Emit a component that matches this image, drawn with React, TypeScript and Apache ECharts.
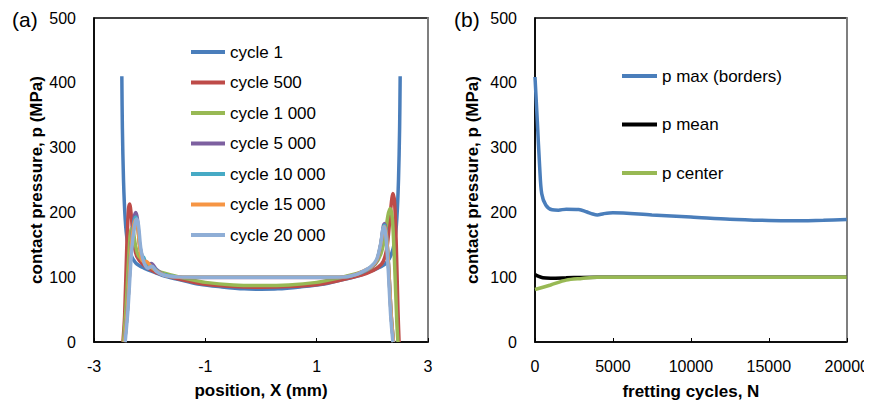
import React, { useEffect, useRef } from "react";
import * as echarts from "echarts";

// ---------- panel (a): contact pressure along position X ----------
const cycle1: [number, number][] = [
  [-2.5, 410], [-2.49, 330], [-2.47, 250], [-2.44, 190], [-2.4, 155], [-2.34, 135], [-2.25, 122],
  [-2.1, 114], [-1.9, 107], [-1.7, 101], [-1.4, 95], [-1.1, 89], [-0.7, 85], [-0.3, 82], [0, 81.5],
  [0.3, 82], [0.7, 85], [1.1, 89], [1.4, 95], [1.7, 101], [1.9, 107], [2.1, 114], [2.25, 122],
  [2.34, 135], [2.4, 155], [2.44, 190], [2.47, 250], [2.49, 330], [2.5, 410],
];
const cycle500: [number, number][] = [
  [-2.48, 0], [-2.45, 40], [-2.41, 150], [-2.38, 205], [-2.36, 213], [-2.33, 195], [-2.29, 155],
  [-2.23, 132], [-2.1, 118], [-1.9, 108], [-1.6, 100], [-1.3, 94], [-1, 89], [-0.5, 85.5], [0, 84.5],
  [0.5, 85.5], [1, 88.5], [1.3, 93], [1.6, 99], [1.9, 106], [2.1, 115], [2.2, 125], [2.27, 150],
  [2.33, 205], [2.37, 229], [2.4, 215], [2.43, 150], [2.46, 50], [2.48, 0],
];
const cycle1000: [number, number][] = [
  [-2.47, 0], [-2.42, 60], [-2.37, 140], [-2.33, 175], [-2.3, 173], [-2.26, 152], [-2.2, 133],
  [-2.05, 121], [-1.9, 111], [-1.6, 103], [-1.3, 97], [-1, 92], [-0.5, 88], [0, 87], [0.5, 88],
  [1, 92], [1.3, 97], [1.6, 103], [1.9, 111], [2.05, 120], [2.15, 135], [2.22, 160], [2.28, 195],
  [2.32, 206], [2.36, 190], [2.4, 120], [2.44, 30], [2.46, 0],
];
const cycle5000: [number, number][] = [
  [-2.45, 0], [-2.4, 50], [-2.33, 150], [-2.28, 192], [-2.25, 200], [-2.22, 190], [-2.18, 150],
  [-2.12, 128], [-2.05, 118], [-1.97, 121], [-1.88, 112], [-1.75, 104], [-1.5, 100], [-1, 99.5],
  [0, 99.5], [1, 99.5], [1.5, 100], [1.7, 104], [1.85, 109], [1.98, 115], [2.08, 125], [2.15, 150],
  [2.2, 180], [2.22, 183], [2.25, 170], [2.29, 120], [2.34, 40], [2.38, 0],
];
const cycle10000: [number, number][] = [
  [-2.45, 0], [-2.4, 50], [-2.33, 150], [-2.28, 186], [-2.25, 193], [-2.22, 185], [-2.18, 150],
  [-2.14, 132], [-2.11, 131], [-2.06, 121], [-1.95, 116], [-1.8, 106], [-1.5, 100.5], [-1, 100],
  [0, 100], [1, 100], [1.5, 100.5], [1.7, 104], [1.85, 109], [1.98, 116], [2.08, 126], [2.15, 150],
  [2.2, 177], [2.22, 180], [2.25, 168], [2.29, 120], [2.34, 40], [2.38, 0],
];
const cycle15000: [number, number][] = [
  [-2.45, 0], [-2.4, 50], [-2.33, 148], [-2.28, 182], [-2.25, 188], [-2.22, 180], [-2.18, 148],
  [-2.13, 125], [-2.05, 124], [-1.97, 116], [-1.85, 108], [-1.7, 102], [-1.5, 100.5], [-1, 100],
  [0, 100], [1, 100], [1.5, 100.5], [1.7, 104], [1.85, 110], [1.98, 116], [2.08, 126], [2.15, 150],
  [2.2, 175], [2.22, 178], [2.25, 166], [2.29, 120], [2.34, 40], [2.38, 0],
];
const cycle20000: [number, number][] = [
  [-2.44, 0], [-2.39, 50], [-2.32, 145], [-2.26, 184], [-2.23, 190], [-2.2, 180], [-2.16, 145],
  [-2.1, 122], [-2.03, 114], [-1.96, 117], [-1.88, 109], [-1.75, 103], [-1.5, 100.5], [-1, 100],
  [0, 100], [1, 100], [1.5, 100.5], [1.7, 104], [1.85, 110], [1.98, 117], [2.08, 128], [2.15, 152],
  [2.19, 175], [2.21, 178], [2.24, 166], [2.28, 120], [2.33, 40], [2.37, 0],
];
const leftNames = ["cycle 1", "cycle 500", "cycle 1 000", "cycle 5 000", "cycle 10 000", "cycle 15 000", "cycle 20 000"];
const leftData = [cycle1, cycle500, cycle1000, cycle5000, cycle10000, cycle15000, cycle20000];
const leftColors = ["#4A7EBB", "#BE4B48", "#98B954", "#7D60A0", "#46AAC5", "#F69544", "#8FAED6"];

// ---------- panel (b): pressure vs fretting cycles ----------
const pMax: [number, number][] = [
  [0, 409], [150, 340], [300, 270], [430, 229], [700, 211], [1100, 204], [1500, 203.5], [2000, 205],
  [2800, 204.5], [3300, 201], [3700, 197.5], [4000, 196], [4400, 198], [5000, 199.5], [7500, 196],
  [10000, 193], [12500, 189.5], [15000, 187.5], [16500, 187], [18500, 188], [20000, 189],
];
const pMean: [number, number][] = [
  [0, 104], [200, 101.5], [500, 99], [1000, 98.5], [2000, 99], [3000, 99.7], [4000, 100], [20000, 100],
];
const pCenter: [number, number][] = [
  [0, 81], [1000, 88], [2000, 95.5], [3000, 98], [4000, 100], [20000, 100],
];
const rightNames = ["p max (borders)", "p mean", "p center"];
const rightData = [pMax, pMean, pCenter];
const rightColors = ["#4A7EBB", "#000000", "#98B954"];

const FONT = "Liberation Sans";

export default function App() {
  const ref = useRef<HTMLDivElement>(null);
  useEffect(() => {
    if (!ref.current) return;
    const chart = echarts.init(ref.current, undefined, { renderer: "svg" });
    const axisText = { color: "#000", fontFamily: FONT, fontSize: 16 };
    const nameText = { color: "#000", fontFamily: FONT, fontSize: 17, fontWeight: "bold" as const };
    const series: any[] = [];
    leftData.forEach((d, i) =>
      series.push({
        name: leftNames[i], type: "line", xAxisIndex: 0, yAxisIndex: 0, data: d,
        symbol: "none", smooth: 0.3, lineStyle: { width: 3.5, color: leftColors[i] }, itemStyle: { color: leftColors[i] },
      })
    );
    rightData.forEach((d, i) =>
      series.push({
        name: rightNames[i], type: "line", xAxisIndex: 1, yAxisIndex: 2, data: d,
        symbol: "none", smooth: 0.3, lineStyle: { width: 3.5, color: rightColors[i] }, itemStyle: { color: rightColors[i] },
      })
    );
    const yBase = (gridIndex: number, gap: number) => ({
      type: "value", gridIndex, min: 0, max: 500, interval: 100,
      name: "contact pressure, p (MPa)", nameLocation: "middle", nameGap: gap, nameTextStyle: nameText,
      axisLine: { show: true, onZero: false, lineStyle: { color: "#000", width: 1.5 } },
      axisTick: { show: false }, splitLine: { show: false },
      axisLabel: { ...axisText, margin: 18 },
    });
    const yRight = (gridIndex: number) => ({
      type: "value", gridIndex, min: 0, max: 500, position: "right",
      axisLine: { show: true, onZero: false, lineStyle: { color: "#7F7F7F", width: 2 } },
      axisTick: { show: false }, axisLabel: { show: false }, splitLine: { show: false },
    });
    const legendText = { color: "#000", fontFamily: FONT, fontSize: 17, lineHeight: 20 };
    chart.setOption({
      animation: false,
      grid: [
        { left: 94, right: 444, top: 18, bottom: 66, show: true, borderColor: "#000", borderWidth: 1.5 },
        { left: 535, right: 25, top: 18, bottom: 66, show: true, borderColor: "#000", borderWidth: 1.5 },
      ],
      xAxis: [
        {
          type: "value", gridIndex: 0, min: -3, max: 3, interval: 2,
          name: "position, X (mm)", nameLocation: "middle", nameGap: 40, nameTextStyle: nameText,
          axisLine: { show: true, onZero: false, lineStyle: { color: "#000", width: 1.5 } },
          axisTick: { show: true, inside: true, length: 4, lineStyle: { color: "#000" } },
          splitLine: { show: false }, axisLabel: { ...axisText, margin: 16 },
        },
        {
          type: "value", gridIndex: 1, min: 0, max: 20000, interval: 5000,
          name: "fretting cycles, N", nameLocation: "middle", nameGap: 41, nameTextStyle: nameText,
          axisLine: { show: true, onZero: false, lineStyle: { color: "#000", width: 1.5 } },
          axisTick: { show: true, inside: true, length: 4, lineStyle: { color: "#000" } },
          splitLine: { show: false },
          axisLabel: { ...axisText, margin: 16, formatter: (v: number) => String(v) },
        },
      ],
      yAxis: [yBase(0, 48), yRight(0), yBase(1, 54), yRight(1)],
      legend: [
        {
          data: leftNames, orient: "vertical", left: 191, top: 42, padding: 0, icon: "rect",
          itemWidth: 34, itemHeight: 4, itemGap: 10.5, textStyle: legendText,
        },
        {
          data: rightNames, orient: "vertical", left: 622, top: 66, padding: 0, icon: "rect",
          itemWidth: 35, itemHeight: 4, itemGap: 28.5, textStyle: legendText,
        },
      ],
      graphic: [
        { type: "text", left: 12, top: 9, style: { text: "(a)", fontFamily: FONT, fontSize: 21, fill: "#000" } },
        { type: "text", left: 454, top: 9, style: { text: "(b)", fontFamily: FONT, fontSize: 21, fill: "#000" } },
      ],
      series,
    });
    return () => chart.dispose();
  }, []);
  return <div ref={ref} style={{ width: 872, height: 408, margin: -8 }} />;
}
